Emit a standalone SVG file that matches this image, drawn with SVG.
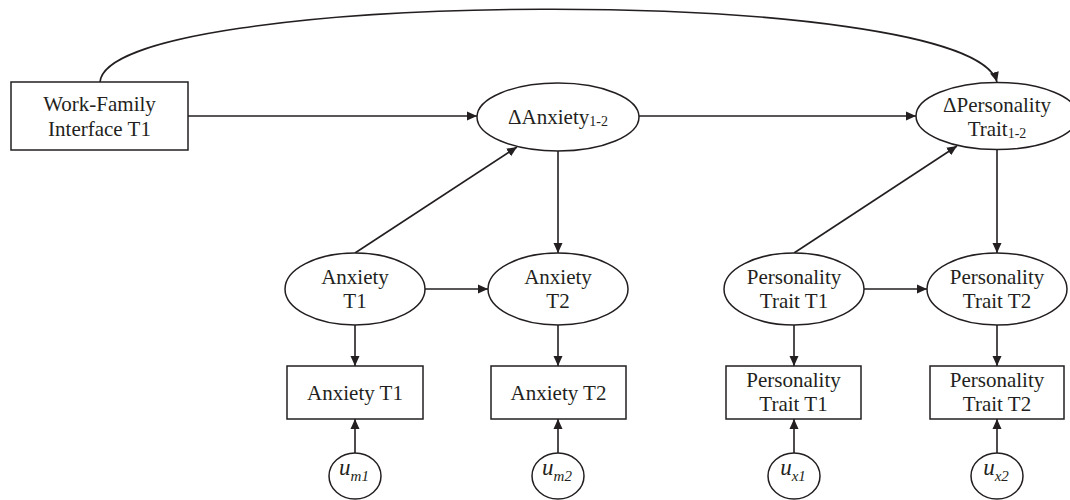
<svg xmlns="http://www.w3.org/2000/svg" width="1070" height="500" viewBox="0 0 1070 500">
<defs>
<marker id="arr" viewBox="0 0 10 10" refX="10" refY="5" markerWidth="10" markerHeight="10" markerUnits="userSpaceOnUse" orient="auto">
<path d="M0,0.5 L10,5 L0,9.5 z" fill="#231f20"/>
</marker>
<style>
.shape{fill:#fff;stroke:#231f20;stroke-width:1.5}
.edge{fill:none;stroke:#231f20;stroke-width:1.6;marker-end:url(#arr)}
text{font-family:"Liberation Serif","Times New Roman",serif;font-size:21px;fill:#231f20;text-anchor:middle}
.sub{font-size:14px}
.u{font-style:italic;font-size:23px}
.us{font-style:italic;font-size:15px}
</style>
</defs>
<rect width="1070" height="500" fill="#fff"/>
<g id="connectors">
<path class="edge" d="M100,82 C108,-12 970,-18 997,82"/>
<path class="edge" d="M188,116 L477,116"/>
<path class="edge" d="M639,116 L916,116"/>
<path class="edge" d="M355,253 L517,147"/>
<path class="edge" d="M794,253 L957,146"/>
<path class="edge" d="M558,151 L558,253"/>
<path class="edge" d="M997,149 L997,253"/>
<path class="edge" d="M425,289 L488,289"/>
<path class="edge" d="M864,289 L927,289"/>
<path class="edge" d="M355,325 L355,366"/>
<path class="edge" d="M558,325 L558,366"/>
<path class="edge" d="M794,325 L794,366"/>
<path class="edge" d="M997,325 L997,366"/>
<path class="edge" d="M355,453 L355,419"/>
<path class="edge" d="M558,453 L558,419"/>
<path class="edge" d="M794,453 L794,419"/>
<path class="edge" d="M997,453 L997,419"/>
</g>
<g id="wfi">
<rect class="shape" x="11" y="82" width="177" height="68"/>
<text x="99.5" y="111">Work-Family</text>
<text x="99.5" y="136">Interface T1</text>
</g>
<g id="dAnxiety">
<ellipse class="shape" cx="558" cy="117" rx="81" ry="34"/>
<text x="558" y="124">ΔAnxiety<tspan class="sub" dy="2">1-2</tspan></text>
</g>
<g id="dPersonality">
<ellipse class="shape" cx="997" cy="116" rx="81" ry="33.5"/>
<text x="997" y="112">ΔPersonality</text>
<text x="997" y="136">Trait<tspan class="sub" dy="2">1-2</tspan></text>
</g>
<g id="anxT1">
<ellipse class="shape" cx="355" cy="289" rx="70" ry="36"/>
<text x="355" y="284">Anxiety</text>
<text x="355" y="308">T1</text>
</g>
<g id="anxT2">
<ellipse class="shape" cx="558" cy="289" rx="70" ry="36"/>
<text x="558" y="284">Anxiety</text>
<text x="558" y="308">T2</text>
</g>
<g id="perT1">
<ellipse class="shape" cx="794" cy="289" rx="70" ry="36"/>
<text x="794" y="284">Personality</text>
<text x="794" y="308">Trait T1</text>
</g>
<g id="perT2">
<ellipse class="shape" cx="997" cy="289" rx="70" ry="36"/>
<text x="997" y="284">Personality</text>
<text x="997" y="308">Trait T2</text>
</g>
<g id="boxAnxT1">
<rect class="shape" x="287" y="366" width="136" height="53"/>
<text x="355" y="399.5">Anxiety T1</text>
</g>
<g id="boxAnxT2">
<rect class="shape" x="491" y="366" width="135" height="53"/>
<text x="558.5" y="399.5">Anxiety T2</text>
</g>
<g id="boxPerT1">
<rect class="shape" x="726" y="366" width="135" height="53"/>
<text x="793.5" y="387">Personality</text>
<text x="793.5" y="411">Trait T1</text>
</g>
<g id="boxPerT2">
<rect class="shape" x="930" y="366" width="134" height="53"/>
<text x="997" y="387">Personality</text>
<text x="997" y="411">Trait T2</text>
</g>
<g id="um1">
<ellipse class="shape" cx="355" cy="476" rx="26" ry="23"/>
<text x="354" y="475"><tspan class="u">u</tspan><tspan class="us" dy="6">m1</tspan></text>
</g>
<g id="um2">
<ellipse class="shape" cx="558" cy="476" rx="26" ry="23"/>
<text x="557" y="475"><tspan class="u">u</tspan><tspan class="us" dy="6">m2</tspan></text>
</g>
<g id="ux1">
<ellipse class="shape" cx="794" cy="476" rx="26" ry="23"/>
<text x="793" y="475"><tspan class="u">u</tspan><tspan class="us" dy="6">x1</tspan></text>
</g>
<g id="ux2">
<ellipse class="shape" cx="997" cy="476" rx="26" ry="23"/>
<text x="996" y="475"><tspan class="u">u</tspan><tspan class="us" dy="6">x2</tspan></text>
</g>
</svg>
